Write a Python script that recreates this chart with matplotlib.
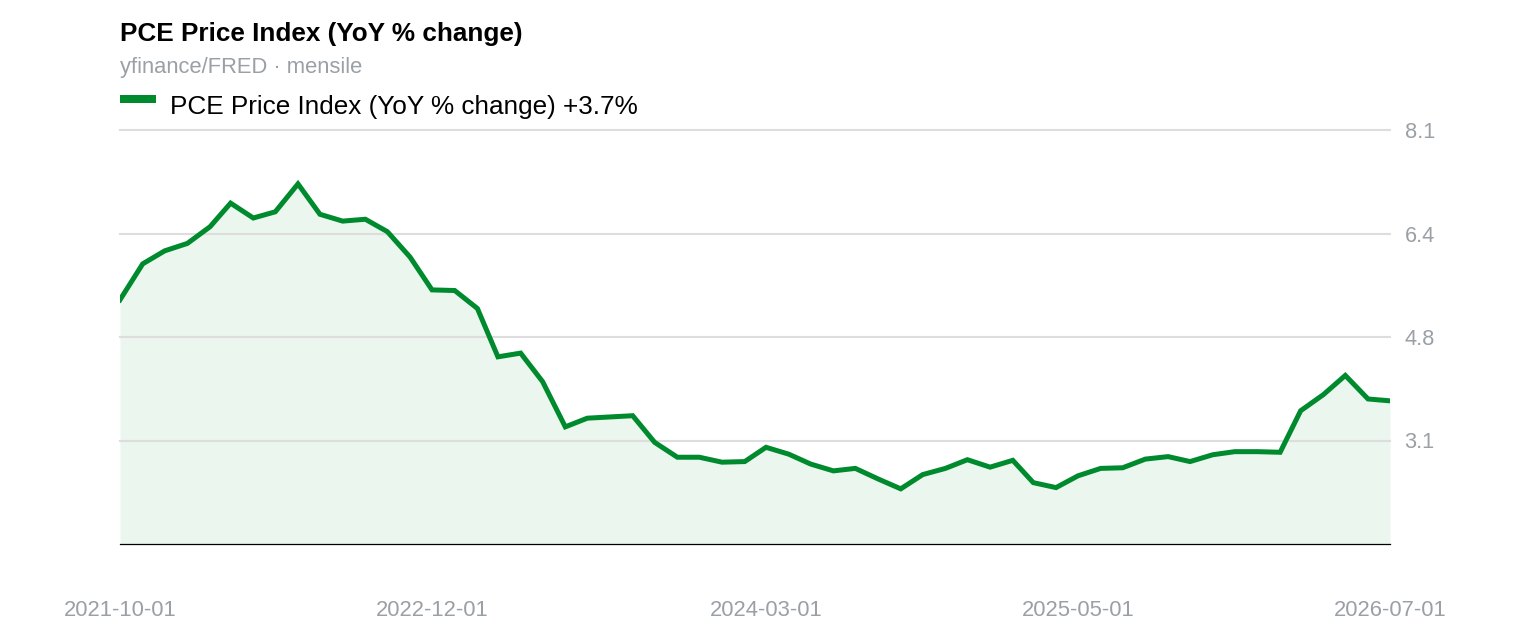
import pandas as pd
import matplotlib
matplotlib.use('Agg')
from matplotlib import pyplot as plt
from matplotlib.patches import Rectangle

### chart data
start_date = '2021-10-01'
pce_yoy = [5.36, 5.94, 6.15, 6.27, 6.54, 6.92, 6.68, 6.78, 7.23, 6.74,
           6.63, 6.66, 6.46, 6.05, 5.52, 5.51, 5.22, 4.44, 4.50, 4.04,
           3.31, 3.45, 3.47, 3.49, 3.06, 2.82, 2.82, 2.74, 2.75, 2.98,
           2.87, 2.71, 2.60, 2.64, 2.47, 2.31, 2.54, 2.64, 2.78, 2.66,
           2.77, 2.41, 2.33, 2.52, 2.64, 2.65, 2.79, 2.83, 2.75, 2.86,
           2.91, 2.91, 2.90, 3.57, 3.83, 4.14, 3.76, 3.73]
x_tick_labels = ['2021-10-01', '2022-12-01', '2024-03-01', '2025-05-01', '2026-07-01']
y_ticks = [3.09, 4.76, 6.43, 8.1]
y_min = 1.42
y_max = 8.1

title = 'PCE Price Index (YoY % change)'
subtitle = 'yfinance/FRED · mensile'
series_name = 'PCE Price Index (YoY % change)'

### style
green = '#008a2e'
fill_green = '#ebf6ee'
gray_text = '#9aa0a6'
grid_gray = '#dddddd'
plt.rcParams['font.family'] = ['Liberation Sans', 'DejaVu Sans']

W, H = 1520, 632
dates = pd.date_range(start_date, periods=len(pce_yoy), freq='MS')

fig = plt.figure(figsize=(W / 100, H / 100), dpi=100)
ax = fig.add_axes([120 / W, (H - 544) / H, 1270 / W, 414 / H])

# area + line
ax.fill_between(dates, pce_yoy, y_min, color=fill_green, lw=0, zorder=1)
ax.plot(dates, pce_yoy, color=green, lw=3.6, solid_joinstyle='miter', zorder=3)

ax.set_xlim(dates[0], dates[-1])
ax.set_ylim(y_min, y_max)

# y axis on the right, horizontal grid lines only
ax.yaxis.tick_right()
ax.set_yticks(y_ticks)
ax.set_yticklabels([f'{v:.1f}' for v in y_ticks])
ax.grid(axis='y', color=grid_gray, lw=1.5, zorder=0)
for gl in ax.get_ygridlines():
    gl.set_clip_on(False)
ax.tick_params(axis='y', length=0, pad=10.5, labelsize=15.7, labelcolor=gray_text)

ax.set_xticks(pd.to_datetime(x_tick_labels))
ax.set_xticklabels(x_tick_labels)
ax.tick_params(axis='x', length=0, pad=40.5, labelsize=15.8, labelcolor=gray_text)

for side in ['top', 'left', 'right']:
    ax.spines[side].set_visible(False)
ax.spines['bottom'].set_color('black')
ax.spines['bottom'].set_linewidth(0.9)
ax.spines['bottom'].set_zorder(4)

# header texts
fig.text(120 / W, 1 - 40.5 / H, title, fontsize=18.8, fontweight='bold', va='baseline', ha='left')
fig.text(120 / W, 1 - 73 / H, subtitle, fontsize=15.85, color=gray_text, va='baseline', ha='left')

# legend swatch and label
fig.patches.append(Rectangle((120 / W, 1 - 103 / H), 36 / W, 8 / H,
                             transform=fig.transFigure, color=green, lw=0))
last = pce_yoy[-1]
fig.text(170 / W, 1 - 114 / H, f'{series_name} {last:+.1f}%', fontsize=18.8,
         va='baseline', ha='left')

fig.savefig('out.png', dpi=100, facecolor='white')
